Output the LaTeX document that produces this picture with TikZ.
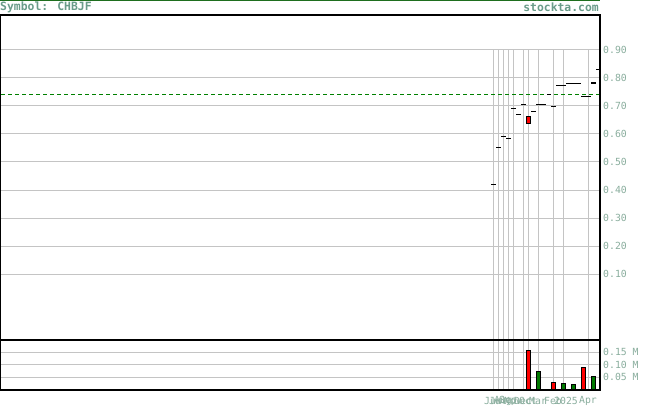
\documentclass[tikz,border=0pt]{standalone}
\usepackage{fontspec}
\setmainfont{DejaVu Sans Mono}
\definecolor{gridgray}{HTML}{C4C4C4}
\definecolor{titlecol}{HTML}{6A9C8A}
\definecolor{labcol}{HTML}{8AAE9E}
\definecolor{topgreen}{HTML}{1E6E1E}
\definecolor{dashgreen}{HTML}{008000}
\definecolor{volgreen}{HTML}{007A00}
\definecolor{volred}{HTML}{FF0000}
\begin{document}
\begin{tikzpicture}[x=1pt,y=-1pt,
  gridline/.style={draw=gridgray,line width=1pt},
  frame/.style={draw=black,line width=1.2pt},
  candle/.style={draw=black,line width=1pt},
  axlab/.style={text=labcol,font=\fontsize{9.8}{10}\selectfont,inner sep=0pt},
  titlelab/.style={text=titlecol,font=\fontsize{11.4}{12}\selectfont\bfseries,inner sep=0pt},
  redbar/.style={fill=volred,draw=black,line width=0.8pt},
  greenbar/.style={fill=volgreen,draw=black,line width=0.8pt}]
\useasboundingbox (0,0) rectangle (655,406);
\fill[white] (0,0) rectangle (655,406);
% top line
\draw[topgreen,line width=1.3pt] (0,0.7) -- (600,0.7);
% titles
\node[titlelab,anchor=west] (sym) at (0,7.4) {Symbol: CHBJF};
\node[titlelab,anchor=east] (site) at (599,7.4) {stockta.com};
% horizontal grid, price panel
\foreach \yy in {50,78,...,274} \draw[gridline] (0,\yy) -- (600,\yy);
% horizontal grid, volume panel
\foreach \yy in {352,364.7,377.3} \draw[gridline] (0,\yy) -- (600,\yy);
% vertical grid
\foreach \xx in {493,498,503,508,513,523,528,538,553,563,588}
  \draw[gridline] (\xx,50) -- (\xx,390);
% dashed average line
\draw[dashgreen,line width=1pt,dash pattern=on 4pt off 3pt] (1,94.3) -- (600,94.3);
% price ticks
\foreach \a/\b/\yy in {491/496/184,496/501/147.3,501/506/136.3,506/511/138.3,
  511/516/108.3,516/521/114.3,521/526/104.3,531/536/111.3,536/546/104.3,
  547/551/94.3,551/556/106.3,556/566/85.3,566/581/83.3,581/591/96.3,596/600/69.3}
  \draw[candle] (\a,\yy) -- (\b,\yy);
\draw[candle,line width=2pt] (591,82.8) -- (596,82.8);
\draw[fill=volred,draw=black,line width=0.8pt] (526.5,116.5) rectangle (530.5,123.5);
% volume bars
\draw[black,line width=1.2pt] (491.5,389.3) -- (526,389.3);
\draw[redbar] (526.5,350.5) rectangle (530.5,390);
\draw[greenbar] (536.5,371) rectangle (540.5,390);
\draw[redbar] (551.5,382.3) rectangle (555.5,390);
\draw[greenbar] (561.5,383) rectangle (565.5,390);
\draw[greenbar] (571.5,384) rectangle (575.5,390);
\draw[redbar] (581.5,367) rectangle (585.5,390);
\draw[greenbar] (591.5,376.3) rectangle (595.5,390);
% frames
\draw[frame] (0.6,15) -- (600,15) -- (600,390) -- (0.6,390) -- cycle;
\draw[frame] (0.6,340) -- (600,340);
% price axis labels
\node[axlab,anchor=west] (p90) at (603,50) {0.90};
\node[axlab,anchor=west] (p80) at (603,78) {0.80};
\node[axlab,anchor=west] (p70) at (603,106) {0.70};
\node[axlab,anchor=west] (p60) at (603,134) {0.60};
\node[axlab,anchor=west] (p50) at (603,162) {0.50};
\node[axlab,anchor=west] (p40) at (603,190) {0.40};
\node[axlab,anchor=west] (p30) at (603,218) {0.30};
\node[axlab,anchor=west] (p20) at (603,246) {0.20};
\node[axlab,anchor=west] (p10) at (603,274) {0.10};
% volume axis labels
\node[axlab,anchor=west] (v15) at (603,352) {0.15 M};
\node[axlab,anchor=west] (v10) at (603,364.7) {0.10 M};
\node[axlab,anchor=west] (v05) at (603,377.3) {0.05 M};
% date labels
\node[axlab] (m1) at (493,401) {Jun};
\node[axlab] (m2) at (498,401) {Jul};
\node[axlab] (m3) at (503,401) {Aug};
\node[axlab] (m4) at (508,401) {Sep};
\node[axlab] (m5) at (513,401) {Nov};
\node[axlab] (m6) at (523,401) {Dec};
\node[axlab] (m7) at (528,401) {Oct};
\node[axlab] (m8) at (538,401) {Mar};
\node[axlab] (m9) at (553,401) {Feb};
\node[axlab] (m10) at (566,401) {2025};
\node[axlab] (m11) at (588,401) {Apr};
\end{tikzpicture}
\end{document}
